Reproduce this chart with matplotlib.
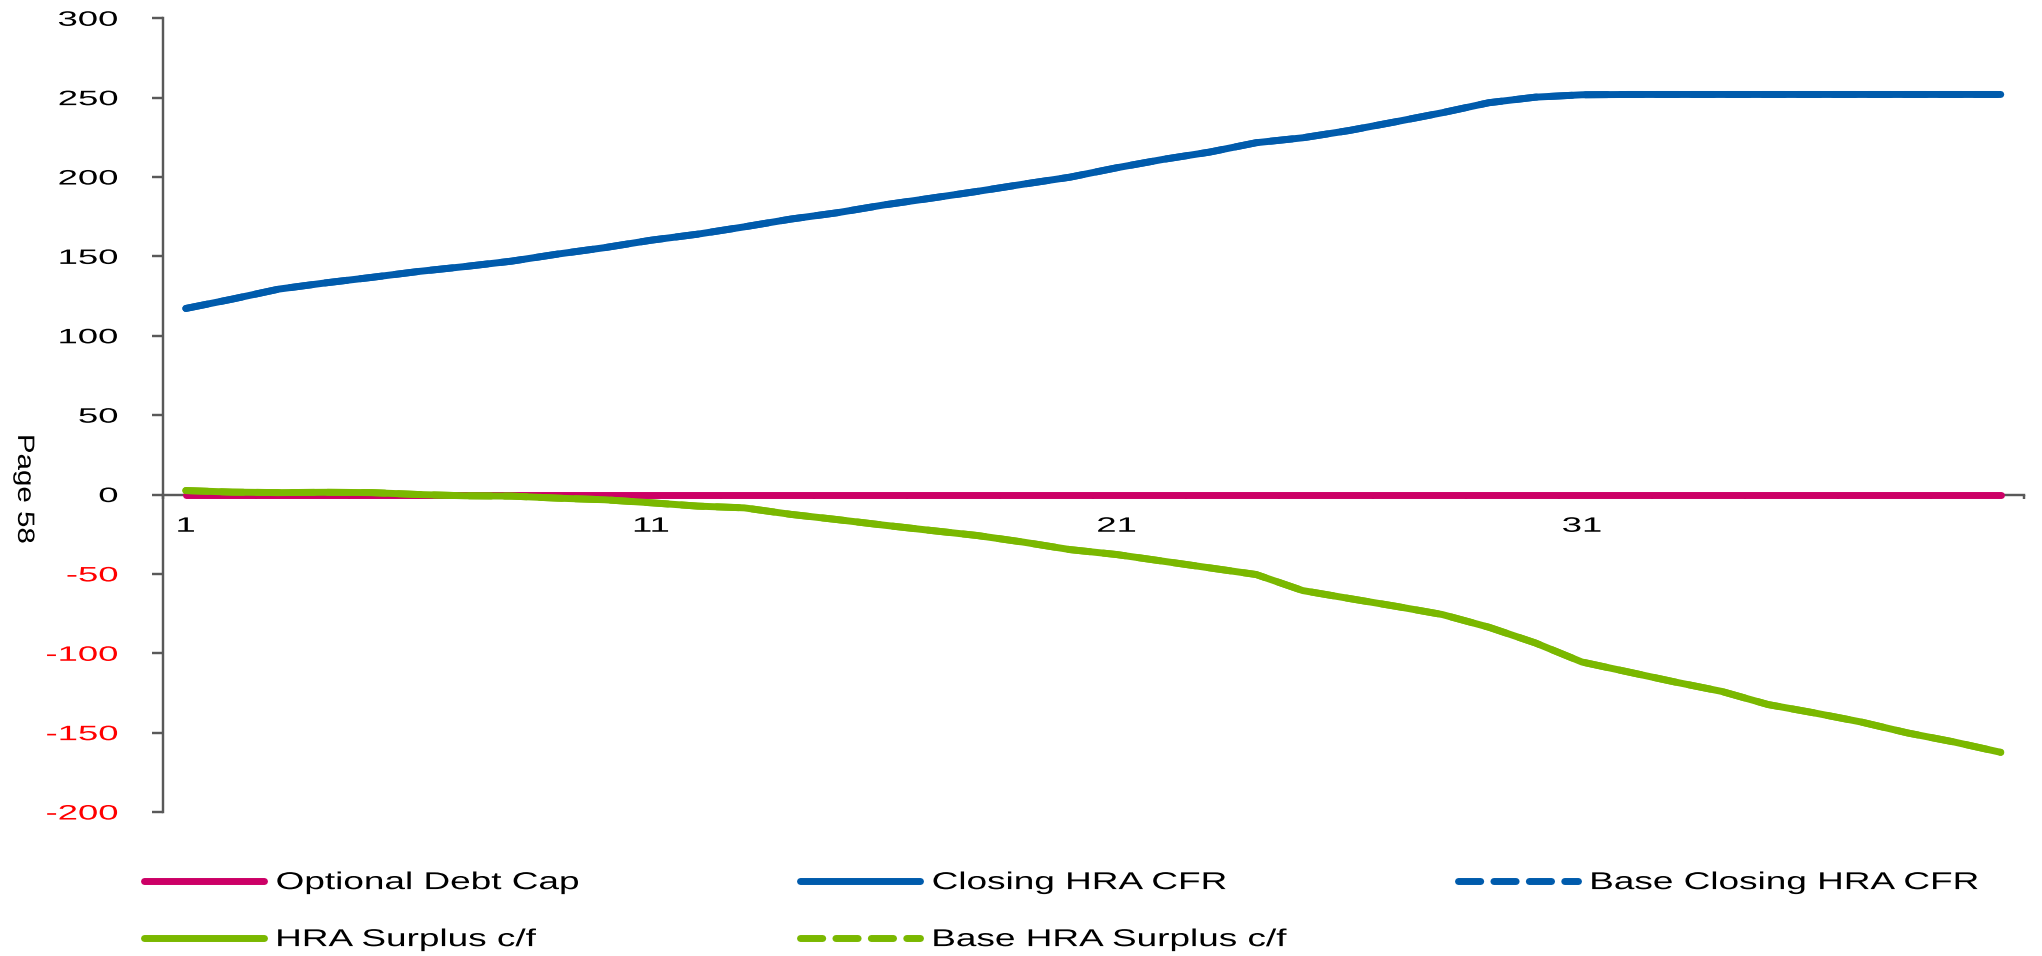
import matplotlib
matplotlib.use("Agg")
import numpy as np
import matplotlib.pyplot as plt
from matplotlib.patheffects import AbstractPathEffect
from matplotlib.transforms import Affine2D

plt.rcParams['font.family'] = ['Liberation Sans', 'DejaVu Sans']

# Plan year index (1..40)
years = list(range(1, 41))

optional_debt_cap = [0, 0, 0, 0, 0, 0, 0, 0, 0, 0,
                     0, 0, 0, 0, 0, 0, 0, 0, 0, 0,
                     0, 0, 0, 0, 0, 0, 0, 0, 0, 0,
                     0, 0, 0, 0, 0, 0, 0, 0, 0, 0]

closing_cfr = [117.2, 123.1, 129.4, 133.3, 136.8, 140.5, 143.6, 147.0, 151.5, 155.5,
               160.2, 164.0, 168.6, 173.5, 177.5, 182.4, 186.6, 190.9, 195.5, 199.9,
               205.8, 211.1, 215.7, 221.6, 224.7, 229.3, 234.8, 240.5, 246.8, 250.3,
               251.8, 252.0, 252.0, 252.0, 252.0, 252.0, 252.0, 252.0, 252.0, 252.0]

surplus_cf = [2.5, 1.5, 1.2, 1.4, 1.2, 0.0, -0.8, -1.0, -2.3, -3.3,
              -5.2, -7.3, -8.4, -12.5, -15.8, -19.3, -22.6, -25.8, -30.0, -34.7,
              -37.8, -42.0, -46.2, -50.4, -60.5, -65.5, -70.4, -75.6, -83.6, -93.5,
              -105.5, -111.8, -118.1, -124.0, -132.3, -137.6, -143.3, -150.2, -155.9, -162.4]

# base case runs on top of the current plan
base_closing_cfr = list(closing_cfr)
base_surplus_cf = list(surplus_cf)

y_ticks = [-200, -150, -100, -50, 0, 50, 100, 150, 200, 250, 300]
x_labels = [1, 11, 21, 31]

PINK = '#CC0066'
BLUE = '#005BAC'
GREEN = '#7AB800'
GREY = '#595959'


class Widen(AbstractPathEffect):
    """Draw text glyphs stretched sideways, pinned at one edge."""

    def __init__(self, sx, pin='left'):
        super().__init__()
        self.sx = sx
        self.pin = pin

    def draw_path(self, renderer, gc, tpath, affine, rgbFace=None):
        ext = tpath.get_extents()
        x0 = {'left': ext.x0, 'right': ext.x1,
              'center': (ext.x0 + ext.x1) / 2}[self.pin]
        stretch = Affine2D().translate(-x0, 0).scale(self.sx, 1).translate(x0, 0)
        renderer.draw_path(gc, tpath, stretch + affine, rgbFace)


fig = plt.figure(figsize=(20.42, 9.56), dpi=100)
ax = fig.add_axes([0.0796, 0.1506, 0.9116, 0.8303])

lw = 5
kw = dict(lw=lw, solid_capstyle='round', dash_capstyle='round', zorder=3)
l_cap, = ax.plot(years, optional_debt_cap, color=PINK, **kw)
l_cfr, = ax.plot(years, closing_cfr, color=BLUE, **kw)
l_bcfr, = ax.plot(years, base_closing_cfr, color=BLUE, dashes=(3.2, 1.9), **kw)
l_sur, = ax.plot(years, surplus_cf, color=GREEN, **kw)
l_bsur, = ax.plot(years, base_surplus_cf, color=GREEN, dashes=(3.2, 1.9), **kw)

ax.set_xlim(0.5, 40.5)
ax.set_ylim(-200, 300)

for side in ['top', 'right']:
    ax.spines[side].set_visible(False)
ax.spines['left'].set_color(GREY)
ax.spines['left'].set_linewidth(1.75)
ax.spines['bottom'].set_color(GREY)
ax.spines['bottom'].set_linewidth(1.75)
ax.spines['bottom'].set_position(('data', 0))

# y axis
ax.set_yticks(y_ticks, [str(v) for v in y_ticks])
ax.tick_params(axis='y', length=8, width=1.75, color=GREY, pad=24, labelsize=15)
for lab, v in zip(ax.get_yticklabels(), y_ticks):
    lab.set_color('#FF0000' if v < 0 else 'black')
    lab.set_path_effects([Widen(1.75, 'right')])

# x axis: marks every two years, labels every ten
ax.set_xticks(np.arange(0.5, 41, 2))
ax.tick_params(axis='x', which='major', length=3, width=1.75, color=GREY,
               labelbottom=False)
ax.set_xticks(x_labels, [str(v) for v in x_labels], minor=True)
ax.tick_params(axis='x', which='minor', length=0, pad=16, labelsize=15)
for lab in ax.get_xticklabels(minor=True):
    lab.set_path_effects([Widen(1.75, 'center')])

fig.text(0.0118, 0.4885, 'Page 58', rotation=270, ha='center', va='center',
         fontsize=17, path_effects=[Widen(1.25, 'center')])

# legend, three columns
columns = [
    ([l_cap, l_sur], ['Optional Debt Cap', 'HRA Surplus c/f'], 0.0705),
    ([l_cfr, l_bsur], ['Closing HRA CFR', 'Base HRA Surplus c/f'], 0.3918),
    ([l_bcfr], ['Base Closing HRA CFR'], 0.714),
]
for handles, labels, x in columns:
    leg = fig.legend(handles, labels, loc='upper left', bbox_to_anchor=(x, 0.0878),
                     frameon=False, borderpad=0, borderaxespad=0, fontsize=17.5,
                     handlelength=4.94, handletextpad=0.5, labelspacing=1.44)
    for t in leg.get_texts():
        t.set_path_effects([Widen(1.52, 'left')])

fig.savefig('out.png', dpi=100)
